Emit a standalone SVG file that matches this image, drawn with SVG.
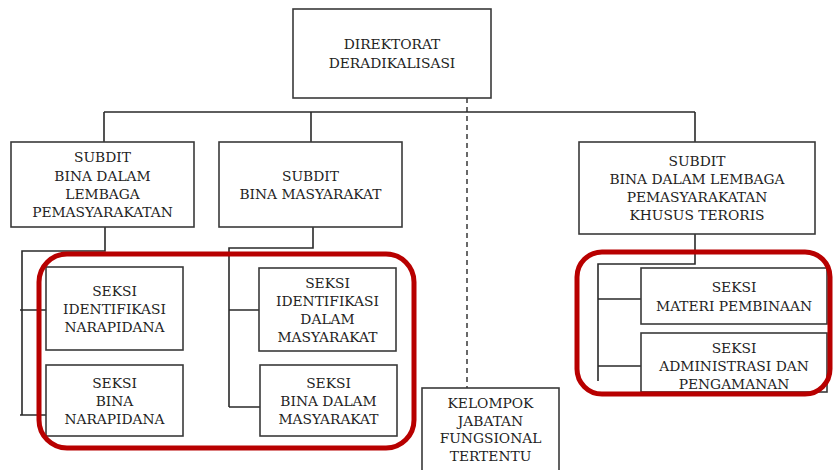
<svg xmlns="http://www.w3.org/2000/svg" width="833" height="470" viewBox="0 0 833 470">
<style>
.box{fill:#fff;stroke:#3a3a3a;stroke-width:1.6}
.ln{fill:none;stroke:#2a2a2a;stroke-width:1.6}
.dash{fill:none;stroke:#2a2a2a;stroke-width:1.4;stroke-dasharray:5 4}
.hl{fill:none;stroke:#b80000;stroke-width:5}
text{font-family:"DejaVu Serif","Liberation Serif",serif;font-size:13.8px;fill:#222;text-anchor:middle}
</style>
<rect width="833" height="470" fill="#fff"/>
<g id="connectors">
<path class="ln" d="M104,112 H695 M104,112 V142 M311,112 V142 M695,112 V142"/>
<path class="dash" d="M467,98 V388"/>
<path class="ln" d="M105,227 V251 H22 V415 M20,310 H46 M20,415 H46"/>
<path class="ln" d="M313,227 V248 H229 V407 M229,310 H259 M229,407 H260"/>
<path class="ln" d="M695,234 V264 H598 V381 M598,299 H641 M598,366 H641"/>
</g>
<g id="direktorat">
<rect class="box" x="293" y="9" width="198" height="89"/>
<text x="392" y="49">DIREKTORAT</text>
<text x="392" y="68">DERADIKALISASI</text>
</g>
<g id="subdit-lembaga">
<rect class="box" x="11" y="142" width="183" height="85"/>
<text x="102.5" y="162">SUBDIT</text>
<text x="102.5" y="181">BINA DALAM</text>
<text x="102.5" y="199">LEMBAGA</text>
<text x="102.5" y="217">PEMASYARAKATAN</text>
</g>
<g id="subdit-masyarakat">
<rect class="box" x="219" y="142" width="183" height="85"/>
<text x="310.5" y="181">SUBDIT</text>
<text x="310.5" y="199">BINA MASYARAKAT</text>
</g>
<g id="subdit-teroris">
<rect class="box" x="579" y="142" width="236" height="92"/>
<text x="697" y="166">SUBDIT</text>
<text x="697" y="184">BINA DALAM LEMBAGA</text>
<text x="697" y="202">PEMASYARAKATAN</text>
<text x="697" y="220">KHUSUS TERORIS</text>
</g>
<g id="seksi-identifikasi-narapidana">
<rect class="box" x="46" y="267" width="137" height="83"/>
<text x="114.5" y="296">SEKSI</text>
<text x="114.5" y="314">IDENTIFIKASI</text>
<text x="114.5" y="332">NARAPIDANA</text>
</g>
<g id="seksi-bina-narapidana">
<rect class="box" x="46" y="365" width="137" height="71"/>
<text x="114.5" y="388">SEKSI</text>
<text x="114.5" y="406">BINA</text>
<text x="114.5" y="424">NARAPIDANA</text>
</g>
<g id="seksi-identifikasi-masyarakat">
<rect class="box" x="259" y="268" width="137" height="83"/>
<text x="327.5" y="288">SEKSI</text>
<text x="327.5" y="306">IDENTIFIKASI</text>
<text x="327.5" y="324">DALAM</text>
<text x="327.5" y="342">MASYARAKAT</text>
</g>
<g id="seksi-bina-masyarakat">
<rect class="box" x="260" y="365" width="137" height="71"/>
<text x="328.5" y="388">SEKSI</text>
<text x="328.5" y="406">BINA DALAM</text>
<text x="328.5" y="424">MASYARAKAT</text>
</g>
<g id="seksi-materi">
<rect class="box" x="641" y="268" width="186" height="56"/>
<text x="734" y="292">SEKSI</text>
<text x="734" y="311">MATERI PEMBINAAN</text>
</g>
<g id="seksi-administrasi">
<rect class="box" x="641" y="333" width="186" height="59"/>
<text x="734" y="353">SEKSI</text>
<text x="734" y="371">ADMINISTRASI DAN</text>
<text x="734" y="389">PENGAMANAN</text>
</g>
<g id="kelompok">
<rect class="box" x="422" y="388" width="137" height="86"/>
<text x="490.5" y="408">KELOMPOK</text>
<text x="490.5" y="426">JABATAN</text>
<text x="490.5" y="443">FUNGSIONAL</text>
<text x="490.5" y="461">TERTENTU</text>
</g>
<g id="highlights">
<rect class="hl" x="39" y="254" width="375" height="194" rx="28"/>
<rect class="hl" x="577" y="252" width="253" height="142" rx="25"/>
</g>
</svg>
